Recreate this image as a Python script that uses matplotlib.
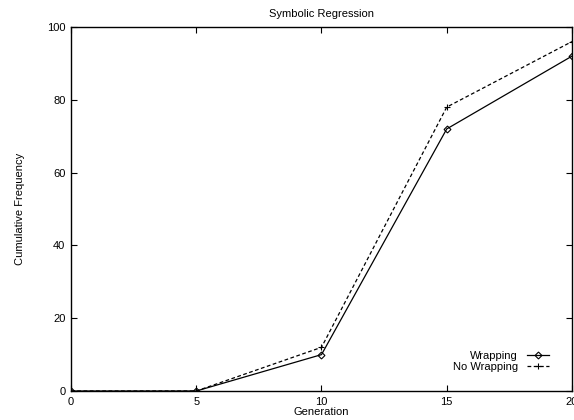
import matplotlib
matplotlib.use('Agg')
import matplotlib.pyplot as plt

plt.rcParams['font.family'] = ['Liberation Sans', 'DejaVu Sans']

generation = [0, 5, 10, 15, 20]
wrapping = [0, 0, 10, 72, 92]
no_wrapping = [0, 0, 12, 78, 96]

fig = plt.figure(figsize=(5.74, 4.2), dpi=100)
ax = fig.add_axes([0.1237, 0.069, 0.8728, 0.8667])

ax.plot(generation, wrapping, color='black', lw=0.9, marker='D', ms=3.5,
        mfc='none', mew=0.8, label='Wrapping')
ax.plot(generation, no_wrapping, color='black', lw=0.9, ls=(0, (3, 2)), marker='+',
        ms=5, mew=0.8, label='No Wrapping')

ax.set_xlim(0, 20)
ax.set_ylim(0, 100)
ax.set_xticks([0, 5, 10, 15, 20])
ax.set_yticks([0, 20, 40, 60, 80, 100])
ax.tick_params(direction='in', top=True, right=True, length=4, width=0.8,
               labelsize=8, pad=4)
for s in ax.spines.values():
    s.set_linewidth(1.0)

ax.set_title('Symbolic Regression', fontsize=8, pad=7)
ax.set_xlabel('Generation', fontsize=8, labelpad=0)
ax.set_ylabel('Cumulative Frequency', fontsize=8, labelpad=16)

leg = ax.legend(loc='lower right', bbox_to_anchor=(0.965, 0.036), frameon=False,
                markerfirst=False, fontsize=8, handlelength=2.0,
                labelspacing=0.1, handletextpad=0.8, borderpad=0)

fig.savefig('out.png', dpi=100)
